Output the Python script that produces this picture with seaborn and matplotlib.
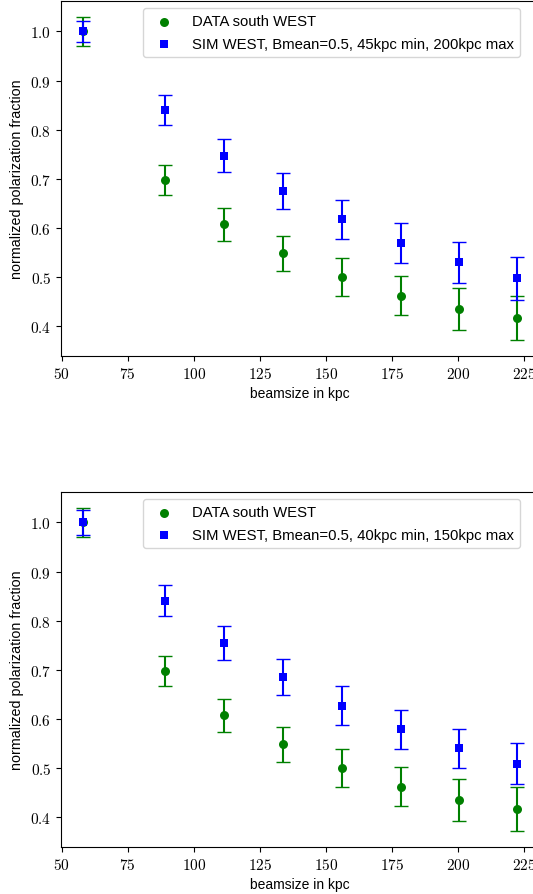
import matplotlib
matplotlib.use("Agg")
import matplotlib.pyplot as plt
import matplotlib.ticker as mticker
import seaborn as sns
import pandas as pd

# ---- data ----
beamsize = [58.0, 89.2, 111.4, 133.6, 156.0, 178.3, 200.5, 222.4]

data_west = [1.0, 0.697, 0.607, 0.548, 0.500, 0.462, 0.435, 0.417]
data_west_err = [0.030, 0.030, 0.034, 0.036, 0.038, 0.040, 0.043, 0.045]

sim_a = [1.0, 0.840, 0.747, 0.675, 0.617, 0.569, 0.530, 0.497]
sim_a_err = [0.021, 0.030, 0.033, 0.037, 0.039, 0.041, 0.042, 0.044]

sim_b = [1.0, 0.841, 0.755, 0.685, 0.627, 0.579, 0.540, 0.509]
sim_b_err = [0.025, 0.031, 0.035, 0.037, 0.039, 0.040, 0.040, 0.041]

data_label = "DATA south WEST"
sim_a_label = "SIM WEST, Bmean=0.5, 45kpc min, 200kpc max"
sim_b_label = "SIM WEST, Bmean=0.5, 40kpc min, 150kpc max"
xlabel = "beamsize in kpc"
ylabel = "normalized polarization fraction"
xticks = [50, 75, 100, 125, 150, 175, 200, 225]
yticks = [0.4, 0.5, 0.6, 0.7, 0.8, 0.9, 1.0]

sns.set_style("ticks", rc={
    "axes.edgecolor": "black", "xtick.color": "black", "ytick.color": "black",
    "text.color": "black", "axes.labelcolor": "black",
    "xtick.direction": "out", "ytick.direction": "out",
})
plt.rcParams["mathtext.fontset"] = "cm"
plt.rcParams["font.family"] = ["Liberation Sans", "DejaVu Sans"]
plt.rcParams["font.size"] = 10

W, H = 533, 895
fig = plt.figure(figsize=(W / 100, H / 100), dpi=100)

left = 61 / W
width = 477 / W
height = 355 / H
ax_top = fig.add_axes([left, 1 - 357 / H, width, height])
ax_bot = fig.add_axes([left, 1 - 848 / H, width, height])


def tick_fmt(v, pos):
    return r"$%d$" % v


def ytick_fmt(v, pos):
    return r"$%.1f$" % v


def draw(ax, sim, sim_err, sim_label):
    df_d = pd.DataFrame({"x": beamsize, "y": data_west})
    df_s = pd.DataFrame({"x": beamsize, "y": sim})
    ax.errorbar(beamsize, data_west, yerr=data_west_err, fmt="none",
                ecolor="green", elinewidth=1.5, capsize=5.3, capthick=1.0, zorder=2)
    sns.scatterplot(data=df_d, x="x", y="y", ax=ax, color="green", marker="o",
                    s=42, linewidth=0, label=data_label, zorder=3)
    ax.errorbar(beamsize, sim, yerr=sim_err, fmt="none",
                ecolor="blue", elinewidth=1.5, capsize=5.3, capthick=1.0, zorder=4)
    sns.scatterplot(data=df_s, x="x", y="y", ax=ax, color="blue", marker="s",
                    s=38, linewidth=0, label=sim_label, zorder=5)
    ax.set_xlim(49.8, 230.2)
    ax.set_ylim(0.339, 1.062)
    ax.set_xticks(xticks)
    ax.set_yticks(yticks)
    ax.xaxis.set_major_formatter(mticker.FuncFormatter(tick_fmt))
    ax.yaxis.set_major_formatter(mticker.FuncFormatter(ytick_fmt))
    ax.tick_params(labelsize=11)
    ax.set_xlabel(xlabel, fontsize=10)
    ax.set_ylabel(ylabel, fontsize=10.3)
    leg = ax.legend(loc="upper right", bbox_to_anchor=(0.962, 0.979),
                    borderaxespad=0, fontsize=10.75, scatterpoints=1,
                    frameon=True, fancybox=True, handletextpad=0.9,
                    labelspacing=0.6)
    leg.get_frame().set_edgecolor("#cccccc")


draw(ax_top, sim_a, sim_a_err, sim_a_label)
draw(ax_bot, sim_b, sim_b_err, sim_b_label)

fig.savefig("out.png", dpi=100)
